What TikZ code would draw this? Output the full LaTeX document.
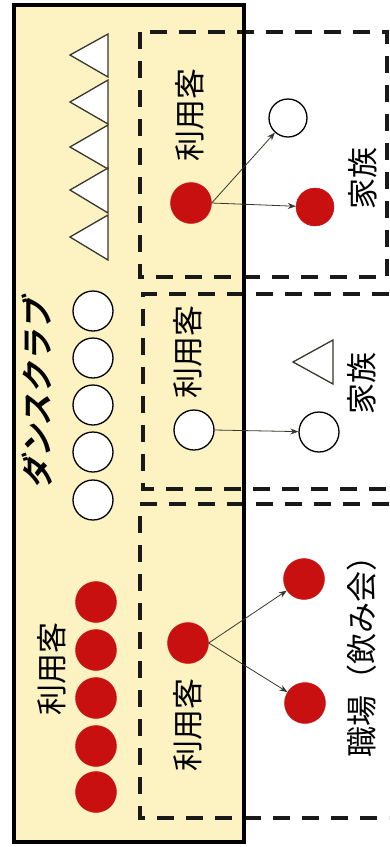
\documentclass[tikz,border=0pt]{standalone}
\usepackage{fontspec}
\usepackage{xcolor}
\usepackage{tikz}
\usetikzlibrary{arrows.meta, shapes.geometric}
\newfontfamily\jp{Noto Sans CJK JP}
\newfontfamily\jpbold{Noto Sans CJK JP Bold}[FakeSlant=0.22]
\definecolor{clubyellow}{RGB}{253, 243, 194}
\definecolor{guestred}{RGB}{200, 16, 16}
\definecolor{linegray}{RGB}{55, 55, 45}

\begin{document}
\begin{tikzpicture}[
    x=1pt, y=-1pt,
    guest/.style={circle, fill=guestred, draw=guestred, minimum size=41pt, inner sep=0pt},
    other/.style={circle, fill=white, draw=black, line width=1.3pt, minimum size=40pt, inner sep=0pt},
    label/.style={rotate=90, inner sep=0pt, font=\jp\fontsize{31}{31}\selectfont},
    scene/.style={draw=black!90, line width=3.2pt, dash pattern=on 17pt off 12pt},
    tri/.style={draw=linegray, fill=white, line width=1.3pt, line join=miter},
    arr/.style={-{Stealth[length=8pt, width=6pt]}, line width=0.8pt, linegray}
]
\useasboundingbox (0,0) rectangle (389,847);

% Dance club
\fill[clubyellow] (14,5) rectangle (244,842);

% Scenes
\draw[scene] (140,32) rectangle (387,277);
\draw[scene] (389,294) -| (143,489) -- (389,489);
\draw[scene] (389,504) -| (140,818) -- (389,818);

\draw[line width=4pt] (14,5) rectangle (244,842);

% Club members
\draw[tri] (108,34) -- (70,55) -- (108,77) -- cycle;
\draw[tri] (108,80) -- (70,102) -- (108,124) -- cycle;
\draw[tri] (108,125) -- (70,147) -- (108,169) -- cycle;
\draw[tri] (108,168) -- (70,190) -- (108,213) -- cycle;
\draw[tri] (108,215) -- (70,237) -- (108,260) -- cycle;

\node[other] (c1) at (93,311) {};
\node[other] (c2) at (93,358) {};
\node[other] (c3) at (93,405) {};
\node[other] (c4) at (93,452) {};
\node[other] (c5) at (93,500) {};

\node[guest] (g1) at (96,602) {};
\node[guest] (g2) at (96,650) {};
\node[guest] (g3) at (96,698) {};
\node[guest] (g4) at (96,746) {};
\node[guest] (g5) at (96,792) {};

\node[rotate=90, inner sep=0pt, font=\jpbold\fontsize{32}{32}\selectfont] (club) at (37,394) {ダンスクラブ};
\node[label] (guestlbl) at (52,669) {利用客};

% Family (guest)
\node[label] (u1) at (190,115) {利用客};
\node[guest] (a) at (191,203) {};
\node[other, minimum size=38pt] (a1) at (288,118) {};
\node[guest, minimum size=38pt] (a2) at (315,207) {};
\node[label] (fam1) at (363,178) {家族};
\draw[arr] (a.east) -- (a1);
\draw[arr] (a.east) -- (a2);

% Family (member)
\node[label] (u2) at (188,352) {利用客};
\node[other] (b) at (194,430) {};
\node[other] (b1) at (319,432) {};
\draw[tri] (333,340) -- (293,362) -- (333,384) -- cycle;
\node[label] (fam2) at (362,383) {家族};
\draw[arr] (b.east) -- (b1);

% Workplace
\node[guest] (w) at (188,643) {};
\node[label] (u3) at (188,725) {利用客};
\node[guest] (w1) at (304,579) {};
\node[guest] (w2) at (305,703) {};
\node[label] (work) at (362,649) {職場（飲み会）};
\draw[arr] (w.east) -- (w1);
\draw[arr] (w.east) -- (w2);

\end{tikzpicture}
\end{document}
